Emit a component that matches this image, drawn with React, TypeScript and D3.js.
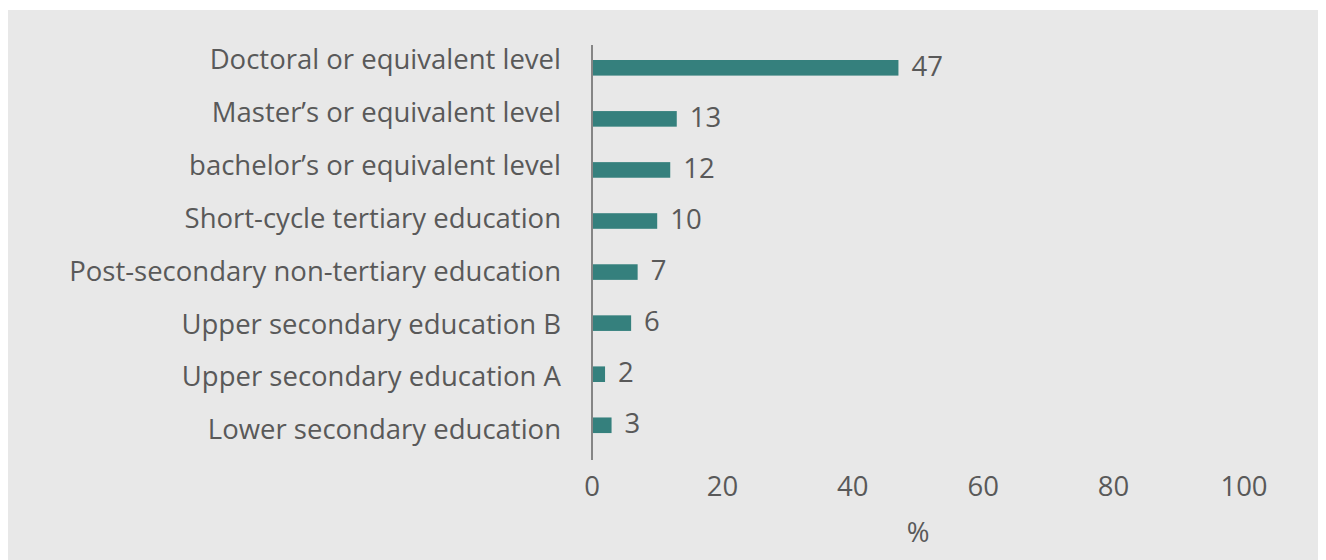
import React from "react";
import * as d3 from "d3";

const categories = [
  "Doctoral or equivalent level",
  "Master’s or equivalent level",
  "bachelor’s or equivalent level",
  "Short-cycle tertiary education",
  "Post-secondary non-tertiary education",
  "Upper secondary education B",
  "Upper secondary education A",
  "Lower secondary education",
];
const values = [47, 13, 12, 10, 7, 6, 2, 3];
const xTicks = [0, 20, 40, 60, 80, 100];
const axisTitle = "%";

const W = 1318;
const H = 552;
const FONT = "'Open Sans', sans-serif";
const FS = 27.5;
const FW = 500;
const TEXT = "#595959";
const BAR = "#35807d";

export default function App() {
  // page coordinates (svg placed at 8,8 by body margin)
  const x = d3.scaleLinear().domain([0, 100]).range([592, 1244]);
  const yBar = d3.scaleBand<string>().domain(categories).range([42.27, 450.8]).padding(0);
  const yLabel = d3.scalePoint<string>().domain(categories).range([69.3, 439.3]);
  const barH = 15.6;
  const axisX = x(0);
  return (
    <svg width={W} height={H} style={{ display: "block" }}>
      <g transform="translate(-8,-8)">
        <rect x={8} y={10} width={W} height={H} fill="#e8e8e8" />
        {categories.map((c, i) => {
          const cy = (yBar(c) as number) + yBar.bandwidth() / 2;
          return (
            <g key={c}>
              <rect x={axisX + 1} y={cy - barH / 2} width={x(values[i]) - axisX - 1} height={barH} fill={BAR} />
              <text x={561} y={yLabel(c)} textAnchor="end" fontFamily={FONT} fontWeight={FW} fontSize={FS} fill={TEXT}>
                {c}
              </text>
              <text x={x(values[i]) + 13} y={cy + 8} textAnchor="start" fontFamily={FONT} fontWeight={FW} fontSize={FS} fill={TEXT}>
                {d3.format("d")(values[i])}
              </text>
            </g>
          );
        })}
        <line x1={axisX} x2={axisX} y1={45} y2={460} stroke="#858585" strokeWidth={2} />
        {xTicks.map((t) => (
          <text key={t} x={x(t)} y={496.3} textAnchor="middle" fontFamily={FONT} fontWeight={FW} fontSize={FS} fill={TEXT}>
            {t}
          </text>
        ))}
        <text x={(x(0) + x(100)) / 2} y={542.3} textAnchor="middle" fontFamily={FONT} fontWeight={FW} fontSize={FS} fill={TEXT}>
          {axisTitle}
        </text>
      </g>
    </svg>
  );
}
